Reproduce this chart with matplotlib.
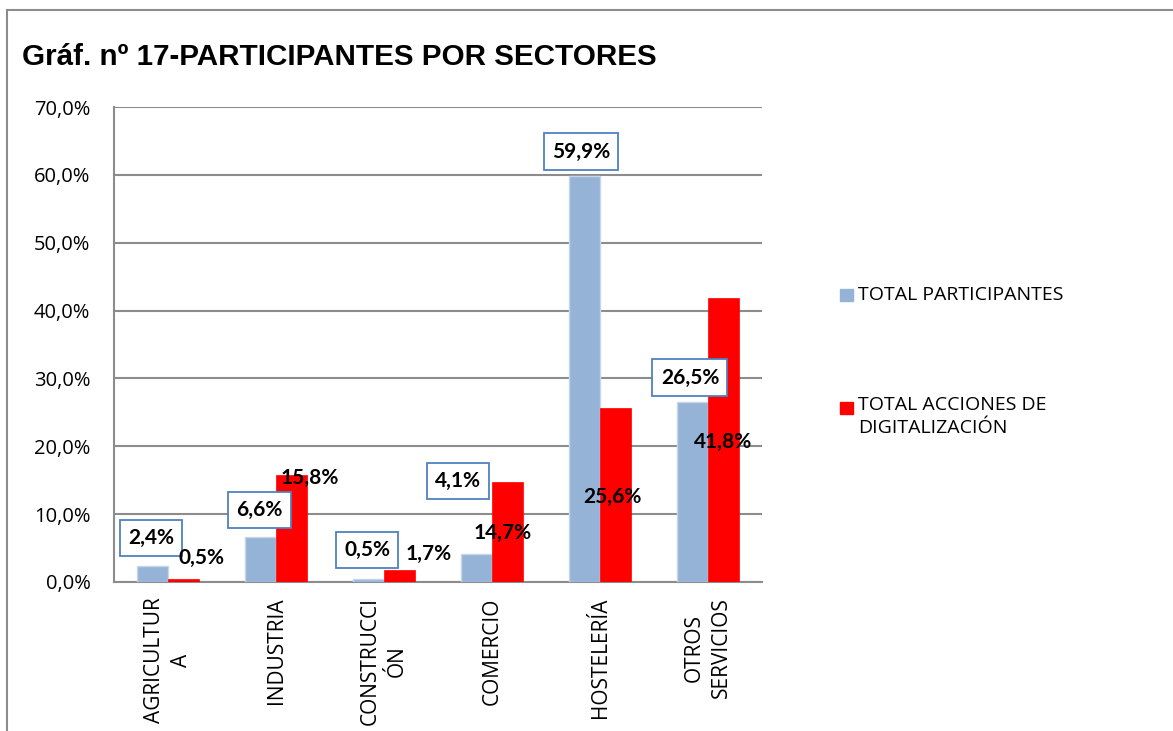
import matplotlib
matplotlib.use('Agg')
import matplotlib.pyplot as plt
from matplotlib.patches import Rectangle
from matplotlib.lines import Line2D
import numpy as np

categories = ['AGRICULTUR\nA', 'INDUSTRIA', 'CONSTRUCCI\nÓN', 'COMERCIO', 'HOSTELERÍA', 'OTROS\nSERVICIOS']
participantes = [2.4, 6.6, 0.5, 4.1, 59.9, 26.5]
acciones = [0.5, 15.8, 1.7, 14.7, 25.6, 41.8]
series_names = ['TOTAL PARTICIPANTES', 'TOTAL ACCIONES DE\nDIGITALIZACIÓN']

# where Excel left the data labels (data coords)
lab_part_pos = [(-0.157, 6.5), (0.843, 10.6), (1.843, 4.7), (2.685, 14.9), (3.824, 63.4), (4.833, 30.1)]
lab_acc_pos = [(0.306, 3.5), (1.315, 15.3), (2.417, 4.1), (3.102, 7.2), (4.111, 12.5), (5.139, 20.6)]

blue = '#95B3D7'
red = '#FF0000'
grid = '#8C8C8C'

W, H = 1173, 731
fig = plt.figure(figsize=(W / 100, H / 100), dpi=100)
ax = fig.add_axes([114 / W, 1 - 582 / H, (762 - 114) / W, (582 - 107) / H])

x = np.arange(len(categories))
w = 0.29
ax.bar(x - w / 2, participantes, w, color=blue, edgecolor='#C5D6EA', linewidth=1, zorder=3)
ax.bar(x + w / 2, acciones, w, color=red, edgecolor=red, linewidth=0.5, zorder=3)

ax.set_xlim(-0.5, len(categories) - 0.5)
ax.set_ylim(0, 70)
ax.set_yticks(np.arange(0, 71, 10))
ax.set_yticklabels([f'{v:.1f}%'.replace('.', ',') for v in np.arange(0, 71, 10)],
                   family='Open Sans', fontsize=14.5)
ax.set_xticks(x)
ax.set_xticklabels(categories, rotation=90, ha='center', va='top', multialignment='center',
                   family='Open Sans', fontsize=15, linespacing=1.35)
ax.tick_params(axis='x', length=0, pad=11)
ax.tick_params(axis='y', length=0, pad=17)
ax.yaxis.grid(True, color=grid, linewidth=1.5, zorder=0)
ax.set_axisbelow(True)
for s in ['top', 'right']:
    ax.spines[s].set_visible(False)
for s in ['left', 'bottom']:
    ax.spines[s].set_color(grid)
    ax.spines[s].set_linewidth(1.5)

for v, (px, py) in zip(participantes, lab_part_pos):
    ax.text(px, py, f'{v:.1f}%'.replace('.', ','), ha='center', va='center',
            family='Lato', weight='bold', fontsize=15, zorder=5,
            bbox=dict(boxstyle='square,pad=0.4', fc='white', ec='#4F81BD', lw=1.3))
for v, (px, py) in zip(acciones, lab_acc_pos):
    ax.text(px, py, f'{v:.1f}%'.replace('.', ','), ha='center', va='center',
            family='Lato', weight='bold', fontsize=15, zorder=5)

# legend drawn by hand like the Excel one
fig.add_artist(Rectangle((840 / W, 1 - 301 / H), 13 / W, 12 / H, transform=fig.transFigure, color=blue))
fig.text(858 / W, 1 - 295 / H, series_names[0], family='Open Sans', fontsize=14, va='center')
fig.add_artist(Rectangle((840 / W, 1 - 414 / H), 13 / W, 12 / H, transform=fig.transFigure, color=red))
fig.text(858 / W, 1 - 396 / H, series_names[1], family='Open Sans', fontsize=14, va='top', linespacing=1.35)

fig.text(22 / W, 1 - 57 / H, 'Gráf. nº 17-PARTICIPANTES POR SECTORES', family='Liberation Sans',
         weight='bold', fontsize=21.3, va='center')

# outer chart frame (cropped at right and bottom)
fig.add_artist(Line2D([7 / W, 7 / W], [0, 1 - 10 / H], transform=fig.transFigure, color='#8C8C8C', lw=1.5))
fig.add_artist(Line2D([7 / W, 1], [1 - 10 / H, 1 - 10 / H], transform=fig.transFigure, color='#8C8C8C', lw=1.5))

fig.savefig('out.png', dpi=100)
